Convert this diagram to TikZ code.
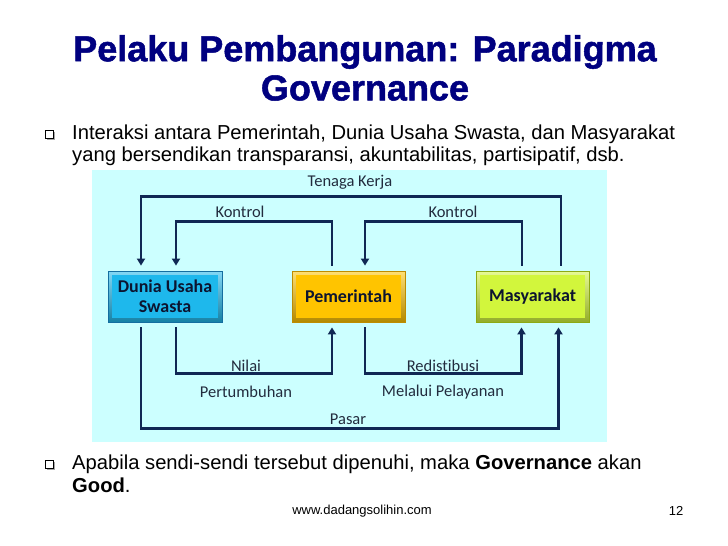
\documentclass[tikz,border=0pt]{standalone}
\usepackage{fontspec}
\setmainfont{Liberation Sans}
\newfontfamily\diafont[Ligatures=NoCommon]{Carlito}
\newfontfamily\titlefont[FakeBold=1.4]{Liberation Sans Bold}
\usetikzlibrary{arrows.meta,calc}
\definecolor{panel}{RGB}{204,255,255}
\definecolor{flowc}{RGB}{16,40,84}
\definecolor{titlec}{RGB}{0,0,128}
\definecolor{labelc}{RGB}{34,44,62}
\definecolor{boxtext}{RGB}{12,20,48}
\definecolor{duniaC}{RGB}{30,184,236}
\definecolor{duniaB}{RGB}{20,110,160}
\definecolor{pemC}{RGB}{255,196,0}
\definecolor{pemB}{RGB}{190,140,0}
\definecolor{masC}{RGB}{210,246,60}
\definecolor{masB}{RGB}{140,170,20}
\tikzset{
  flow/.style={draw=flowc,line width=2.6pt,shorten <=5pt,shorten >=5pt},
  flowarr/.style={flow,-{Triangle[length=7pt,width=8pt]}},
  actor/.style args={#1/#2}{draw=#2,line width=0.8pt,minimum height=51pt,inner sep=2pt,
    top color=#1!55!white,bottom color=#1!70!black,
    path picture={\fill[#1] ([shift={(4pt,4pt)}]path picture bounding box.south west) rectangle ([shift={(-4pt,-4pt)}]path picture bounding box.north east);},
    font=\diafont\bfseries\fontsize{18}{20}\selectfont,text=boxtext,align=center},
  lbl/.style={font=\diafont\fontsize{16.5}{18}\selectfont,text=labelc,inner sep=0pt},
  ttl/.style={font=\titlefont\fontsize{36}{40}\selectfont,inner sep=0pt,text=titlec},
  body/.style={font=\fontsize{20.2}{24}\selectfont,anchor=base west,inner sep=0pt},
}
\newcommand{\mybullet}[2]{%
  \fill[gray!70] (#1+1.5,#2+1.5) rectangle ++(8,-8);
  \draw[black,line width=0.7pt,fill=white] (#1,#2) rectangle ++(8,-8);}
\begin{document}
\begin{tikzpicture}[x=1pt,y=-1pt]
\useasboundingbox (0,0) rectangle (728,546);
\fill[white] (0,0) rectangle (728,546);
% title
\node[ttl] (t1) at (365,52) {Pelaku Pembangunan: Paradigma};
\node[ttl] (t2) at (365,88) {Governance};
% bullets
\mybullet{45}{138}
\node[body] (b1) at (72,139) {Interaksi antara Pemerintah, Dunia Usaha Swasta, dan Masyarakat};
\node[body] (b1b) at (72,161) {yang bersendikan transparansi, akuntabilitas, partisipatif, dsb.};
\mybullet{45}{468}
\node[body] (b2) at (72,469) {Apabila sendi-sendi tersebut dipenuhi, maka \textbf{Governance} akan};
\node[body] (b2b) at (72,492) {\textbf{Good}.};
% panel
\fill[panel] (92,170) rectangle (607,442);
% boxes
\node[actor=duniaC/duniaB,minimum width=114pt] (dunia) at (165,296.5) {Dunia Usaha\\Swasta};
\node[actor=pemC/pemB,minimum width=113pt] (pem) at (348.5,296.5) {Pemerintah};
\node[actor=masC/masB,minimum width=113pt] (mas) at (532.5,296.5) {Masyarakat};
% top flows
\draw[flowarr] ([xshift=28.5pt]mas.north) -- ++(0,-74) -| ([xshift=-24pt]dunia.north);
\draw[flowarr] ([xshift=-16.5pt]pem.north) -- ++(0,-49) -| ([xshift=11pt]dunia.north);
\draw[flowarr] ([xshift=-10.5pt]mas.north) -- ++(0,-49) -| ([xshift=16.5pt]pem.north);
% bottom flows
\draw[flowarr] ([xshift=11pt]dunia.south) -- ++(0,51) -| ([xshift=-16.5pt]pem.south);
\draw[flowarr] ([xshift=16.5pt]pem.south) -- ++(0,51) -| ([xshift=-11pt]mas.south);
\draw[flowarr] ([xshift=-24pt]dunia.south) -- ++(0,106) -| ([xshift=26pt]mas.south);
% labels
\node[lbl] (tk) at (350,182) {Tenaga Kerja};
\node[lbl] (k1) at (240,212) {Kontrol};
\node[lbl] (k2) at (453,212) {Kontrol};
\node[lbl] (n1) at (246,366) {Nilai};
\node[lbl] (n2) at (246,392) {Pertumbuhan};
\node[lbl] (r1) at (443,366) {Redistibusi};
\node[lbl] (r2) at (443,392) {Melalui Pelayanan};
\node[lbl] (ps) at (348,419) {Pasar};
% footer
\node[font=\fontsize{13}{15}\selectfont,inner sep=0pt] (web) at (362,511) {www.dadangsolihin.com};
\node[font=\fontsize{13}{15}\selectfont,inner sep=0pt] (pg) at (676,511) {12};
\end{tikzpicture}
\end{document}
